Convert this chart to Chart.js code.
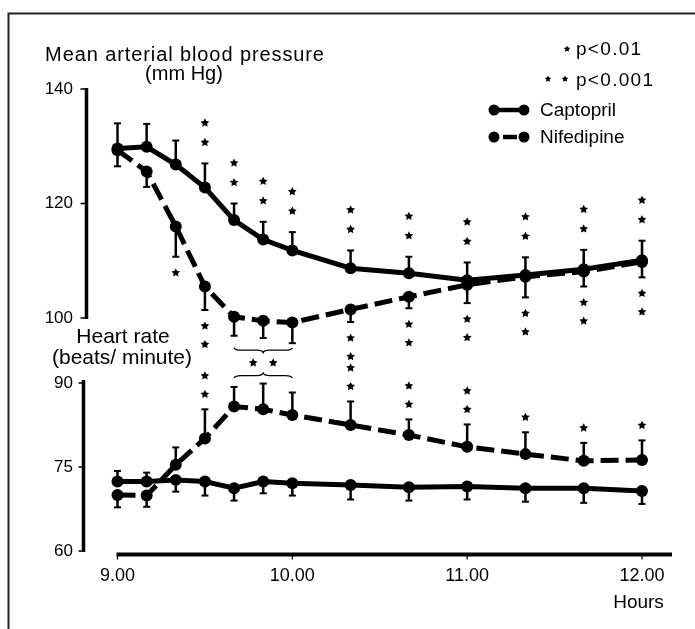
<!DOCTYPE html>
<html>
<head>
<meta charset="utf-8">
<script src="https://cdn.jsdelivr.net/npm/chart.js@4/dist/chart.umd.min.js"></script>
<style>
  html, body { margin: 0; padding: 0; background: #fff; }
  #c { display: block; }
</style>
</head>
<body>
<canvas id="c" width="695" height="629"></canvas>
<script>
// Sampling times (hours)
const hours = [9.0, 9.1667, 9.3333, 9.5, 9.6667, 9.8333, 10.0, 10.3333, 10.6667, 11.0, 11.3333, 11.6667, 12.0];

// Mean arterial blood pressure (mm Hg), mean and SEM
const captoprilMAP    = [129.6, 129.9, 126.8, 122.8, 117.1, 113.7, 111.8, 108.7, 107.8, 106.6, 107.5, 108.5, 110.1];
const captoprilMAPsem = [4.4, 4.0, 4.2, 4.2, 2.9, 3.1, 3.2, 3.1, 2.9, 3.1, 3.1, 3.4, 3.4];
const nifedipineMAP    = [129.3, 125.6, 116.0, 105.5, 100.2, 99.5, 99.2, 101.5, 103.7, 105.8, 107.2, 108.1, 109.8];
const nifedipineMAPsem = [2.8, 2.7, 5.3, 4.1, 3.3, 3.0, 3.6, 2.2, 2.0, 3.2, 3.6, 2.6, 2.7];

// Heart rate (beats/minute), mean and SEM
const captoprilHR    = [72.4, 72.4, 72.7, 72.4, 71.2, 72.4, 72.1, 71.8, 71.4, 71.5, 71.2, 71.2, 70.7];
const captoprilHRsem = [1.9, 1.6, 2.1, 2.5, 2.2, 2.1, 2.2, 2.6, 2.4, 2.3, 2.4, 2.6, 2.3];
const nifedipineHR    = [70.0, 69.9, 75.4, 80.1, 85.8, 85.3, 84.3, 82.5, 80.7, 78.6, 77.3, 76.1, 76.25];
const nifedipineHRsem = [2.2, 2.0, 3.1, 5.2, 3.5, 4.6, 4.0, 4.2, 2.8, 4.0, 3.9, 3.2, 3.5];

// Significance markers per time point (1 = p<0.01, 2 = p<0.001)
const captoprilMAPstars  = [0, 0, 0, 2, 2, 2, 2, 2, 2, 2, 2, 2, 2];
const nifedipineMAPstars = [0, 0, 1, 2, 0, 0, 0, 2, 2, 2, 2, 2, 2];
const nifedipineHRstars  = [0, 0, 0, 2, 0, 0, 0, 2, 2, 2, 1, 1, 1];
// Grouped comparison bracket (hours spanned) and its marker count
const bracketHours = [9.6667, 10.0];
const bracketStars = 2;

// Axis ticks
const xTicks  = [9, 10, 11, 12];
const bpTicks = [100, 120, 140];
const hrTicks = [60, 75, 90];

const FONT = '"Liberation Sans", Arial, Helvetica, sans-serif';
const INK = '#000';

const series = [
  { name: 'Captopril',  values: captoprilMAP,  sem: captoprilMAPsem,  other: nifedipineMAP, axis: 'yBP', dashed: false, stars: captoprilMAPstars,  gap: 21,   step: 19.5 },
  { name: 'Nifedipine', values: nifedipineMAP, sem: nifedipineMAPsem, other: captoprilMAP,  axis: 'yBP', dashed: true,  stars: nifedipineMAPstars, gap: 16,   step: 18.5 },
  { name: 'Captopril',  values: captoprilHR,   sem: captoprilHRsem,   other: nifedipineHR,  axis: 'yHR', dashed: false, stars: null,               gap: 0,    step: 0 },
  { name: 'Nifedipine', values: nifedipineHR,  sem: nifedipineHRsem,  other: captoprilHR,   axis: 'yHR', dashed: true,  stars: nifedipineHRstars,  gap: 15,   step: 18.5 }
];

function drawStar(ctx, x, y, r) {
  ctx.beginPath();
  for (let k = 0; k < 10; k++) {
    const a = -Math.PI / 2 + k * Math.PI / 5;
    const rr = k % 2 ? r * 0.5 : r;
    ctx.lineTo(x + rr * Math.cos(a), y + rr * Math.sin(a));
  }
  ctx.closePath();
  ctx.fill();
}

// Pixel position of the end of an SEM bar; bars point away from the other series
function barEnd(chart, s, i) {
  const y = chart.scales[s.axis];
  const dir = Math.sign(s.values[i] - s.other[i]) || 1;
  return { dir, px: y.getPixelForValue(s.values[i] + dir * s.sem[i]), p0: y.getPixelForValue(s.values[i]) };
}

function drawBrace(ctx, x1, x2, y, tip) {
  const h = 2.5, xm = (x1 + x2) / 2;
  ctx.beginPath();
  ctx.moveTo(x1, y - tip * h);
  ctx.quadraticCurveTo(x1 + 1, y, x1 + 7, y);
  ctx.lineTo(xm - 6, y);
  ctx.quadraticCurveTo(xm - 1, y, xm, y + tip * h);
  ctx.quadraticCurveTo(xm + 1, y, xm + 6, y);
  ctx.lineTo(x2 - 7, y);
  ctx.quadraticCurveTo(x2 - 1, y, x2, y - tip * h);
  ctx.stroke();
}

const errorBars = {
  id: 'errorBars',
  beforeDatasetsDraw(chart) {
    const ctx = chart.ctx, xs = chart.scales.x;
    ctx.save();
    ctx.strokeStyle = INK;
    ctx.lineCap = 'butt';
    series.forEach(s => {
      hours.forEach((h, i) => {
        const x = xs.getPixelForValue(h);
        const e = barEnd(chart, s, i);
        ctx.lineWidth = 2.5;
        ctx.beginPath();
        ctx.moveTo(x, e.p0);
        ctx.lineTo(x, e.px);
        ctx.stroke();
        ctx.lineWidth = 2;
        ctx.beginPath();
        ctx.moveTo(x - 3.5, e.px);
        ctx.lineTo(x + 3.5, e.px);
        ctx.stroke();
      });
    });
    ctx.restore();
  }
};

const decorations = {
  id: 'decorations',
  afterDraw(chart) {
    const ctx = chart.ctx, xs = chart.scales.x, ca = chart.chartArea;
    const yBP = chart.scales.yBP, yHR = chart.scales.yHR;
    ctx.save();
    ctx.fillStyle = INK;
    ctx.strokeStyle = INK;

    // Frame
    ctx.lineWidth = 2;
    ctx.strokeStyle = '#222';
    ctx.beginPath();
    ctx.moveTo(8.5, 629);
    ctx.lineTo(8.5, 13.5);
    ctx.lineTo(695, 13.5);
    ctx.stroke();
    ctx.strokeStyle = INK;

    // Significance stars beyond the SEM bars
    series.forEach(s => {
      if (!s.stars) return;
      hours.forEach((h, i) => {
        const n = s.stars[i];
        if (!n) return;
        const x = xs.getPixelForValue(h);
        const e = barEnd(chart, s, i);
        for (let k = 0; k < n; k++) {
          drawStar(ctx, x, e.px - e.dir * (s.gap + k * s.step), 4.6);
        }
      });
    });

    // Bracket for the grouped comparison
    const idx = hours.map((h, i) => i).filter(i => hours[i] >= bracketHours[0] - 1e-6 && hours[i] <= bracketHours[1] + 1e-6);
    const xa = xs.getPixelForValue(bracketHours[0]), xb = xs.getPixelForValue(bracketHours[1]);
    const upper = Math.max(...idx.map(i => barEnd(chart, series[1], i).px)) + 7;
    const lower = Math.min(...idx.map(i => barEnd(chart, series[3], i).px)) - 8;
    ctx.lineWidth = 1.2;
    drawBrace(ctx, xa, xb, upper, 1);
    drawBrace(ctx, xa, xb, lower, -1);
    const xm = (xa + xb) / 2, ym = (upper + lower) / 2;
    for (let k = 0; k < bracketStars; k++) {
      drawStar(ctx, xm + (k - (bracketStars - 1) / 2) * 20, ym, 4.6);
    }

    // Y axes (broken: blood pressure above, heart rate below)
    ctx.lineWidth = 3.5;
    ctx.lineCap = 'butt';
    const axBP = ca.left + 1.5, axHR = ca.left - 1.5;
    ctx.beginPath();
    ctx.moveTo(axBP, yBP.getPixelForValue(bpTicks[0]) + 1);
    ctx.lineTo(axBP, yBP.getPixelForValue(bpTicks[bpTicks.length - 1]) - 1);
    ctx.stroke();
    ctx.beginPath();
    ctx.moveTo(axHR, yHR.getPixelForValue(hrTicks[0]) + 1);
    ctx.lineTo(axHR, yHR.getPixelForValue(hrTicks[hrTicks.length - 1]) - 3);
    ctx.stroke();

    ctx.font = '17px ' + FONT;
    ctx.textAlign = 'right';
    ctx.textBaseline = 'middle';
    ctx.lineWidth = 1.5;
    bpTicks.forEach(v => {
      const y = yBP.getPixelForValue(v);
      ctx.beginPath(); ctx.moveTo(axBP - 6, y); ctx.lineTo(axBP, y); ctx.stroke();
      ctx.fillText(String(v), 73, y);
    });
    hrTicks.forEach(v => {
      const y = yHR.getPixelForValue(v);
      ctx.beginPath(); ctx.moveTo(axHR - 5, y); ctx.lineTo(axHR, y); ctx.stroke();
      ctx.fillText(String(v), 73, y);
    });

    // X axis
    const xLineY = ca.bottom + 3.5;
    ctx.lineWidth = 4;
    ctx.beginPath();
    ctx.moveTo(xs.getPixelForValue(xTicks[0]) - 1, xLineY);
    ctx.lineTo(ca.right, xLineY);
    ctx.stroke();
    ctx.lineWidth = 1.2;
    xTicks.forEach(v => {
      const x = xs.getPixelForValue(v);
      ctx.beginPath(); ctx.moveTo(x, xLineY); ctx.lineTo(x, xLineY + 5); ctx.stroke();
    });

    // Axis titles
    ctx.textBaseline = 'alphabetic';
    ctx.textAlign = 'center';
    ctx.font = '19px ' + FONT;
    ctx.fillText('Hours', 638.5, 608);

    ctx.font = '20px ' + FONT;
    if ('letterSpacing' in ctx) ctx.letterSpacing = '0.9px';
    ctx.fillText('Mean arterial blood pressure', 185, 61);
    if ('letterSpacing' in ctx) ctx.letterSpacing = '0px';
    ctx.fillText('(mm Hg)', 184, 80);

    ctx.font = '21px ' + FONT;
    ctx.fillText('Heart rate', 123, 343);
    ctx.fillText('(beats/ minute)', 122, 364);

    // Legend
    ctx.textAlign = 'left';
    ctx.font = '19px ' + FONT;
    if ('letterSpacing' in ctx) ctx.letterSpacing = '1.3px';
    ctx.fillText('p<0.01', 576, 55);
    ctx.fillText('p<0.001', 576, 86);
    if ('letterSpacing' in ctx) ctx.letterSpacing = '0px';
    drawStar(ctx, 567, 49, 3.4);
    drawStar(ctx, 548, 79, 3.4);
    drawStar(ctx, 565, 79, 3.4);

    ctx.fillText('Captopril', 540, 116);
    ctx.fillText('Nifedipine', 540, 143);

    ctx.lineWidth = 4.5;
    ctx.beginPath(); ctx.moveTo(494, 110); ctx.lineTo(524, 110); ctx.stroke();
    ctx.beginPath(); ctx.moveTo(503, 137); ctx.lineTo(517, 137); ctx.stroke();
    [[494, 110], [524, 110], [494, 137], [524, 137]].forEach(([x, y]) => {
      ctx.beginPath(); ctx.arc(x, y, 5.5, 0, Math.PI * 2); ctx.fill();
    });

    ctx.restore();
  }
};

function makeDataset(s) {
  return {
    label: s.name,
    data: hours.map((h, i) => ({ x: h, y: s.values[i] })),
    yAxisID: s.axis,
    borderColor: INK,
    backgroundColor: INK,
    borderWidth: 5,
    borderDash: s.dashed ? [18, 7] : [],
    pointRadius: 6,
    pointBorderWidth: 0,
    pointBackgroundColor: INK,
    tension: 0,
    fill: false,
    clip: false
  };
}

new Chart(document.getElementById('c'), {
  type: 'line',
  data: { datasets: series.map(makeDataset) },
  options: {
    responsive: false,
    animation: false,
    devicePixelRatio: 1,
    layout: { padding: { left: 85, top: 89, right: 23, bottom: 38 } },
    plugins: { legend: { display: false }, tooltip: { enabled: false } },
    scales: {
      x: {
        type: 'linear',
        min: 8.8141,
        max: 12.1716,
        grid: { display: false, drawTicks: false },
        border: { display: false },
        afterBuildTicks: sc => { sc.ticks = xTicks.map(v => ({ value: v })); },
        afterFit: sc => { sc.height = 40; },
        ticks: {
          color: INK,
          padding: 14,
          maxRotation: 0,
          font: { family: FONT, size: 18 },
          callback: v => Number(v).toFixed(2)
        }
      },
      yBP: { type: 'linear', display: false, min: 59.30, max: 140 },
      yHR: { type: 'linear', display: false, min: 60, max: 142.5 }
    }
  },
  plugins: [errorBars, decorations]
});
</script>
</body>
</html>
